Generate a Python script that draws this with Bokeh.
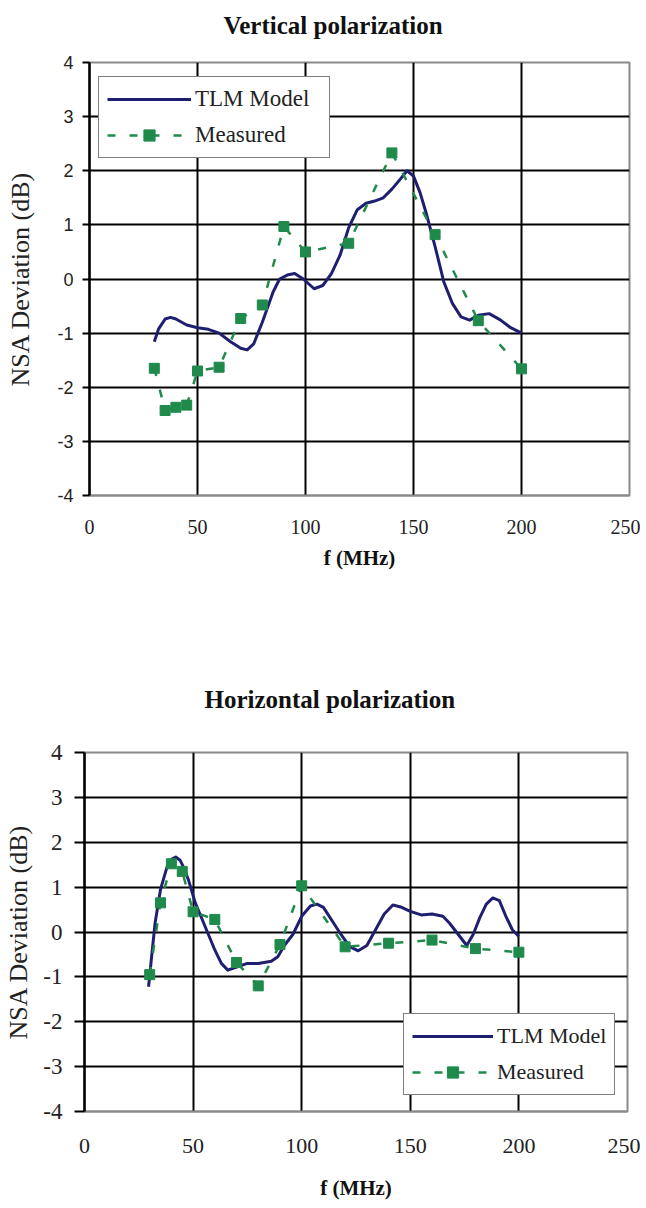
from bokeh.plotting import figure
from bokeh.models import Range1d, FixedTicker, Legend, LegendItem
from bokeh.embed import file_html
from bokeh.resources import INLINE

# ---------------- data ----------------
x_ticks = [0, 50, 100, 150, 200, 250]
y_ticks = [-4, -3, -2, -1, 0, 1, 2, 3, 4]
y_tick_text = ["-4", "-3", "-2", "-1", "0", "1", "2", "3", "4"]

# Vertical polarization
v_tlm_f = [30, 32, 35, 37.5, 40, 45, 50, 55, 60, 65, 70, 73, 76, 80, 85, 88, 92, 95,
           99, 104, 108, 112, 116, 120, 124, 128, 132, 136, 140, 144, 147, 150, 153,
           156, 160, 164, 168, 172, 176, 180, 185, 190, 195, 200]
v_tlm = [-1.16, -0.92, -0.74, -0.71, -0.74, -0.85, -0.9, -0.93, -1.0, -1.15, -1.28, -1.31,
         -1.2, -0.8, -0.24, 0.0, 0.08, 0.1, 0.0, -0.18, -0.12, 0.1, 0.44, 0.95, 1.28, 1.4,
         1.44, 1.5, 1.66, 1.85, 2.0, 1.9, 1.6, 1.2, 0.6, -0.05, -0.45, -0.7, -0.76, -0.67,
         -0.64, -0.75, -0.9, -1.0]
v_meas_f = [30, 35, 40, 45, 50, 60, 70, 80, 90, 100, 120, 140, 160, 180, 200]
v_meas = [-1.65, -2.43, -2.37, -2.33, -1.7, -1.63, -0.73, -0.48, 0.97, 0.5, 0.66, 2.33,
          0.82, -0.77, -1.66]

# Horizontal polarization
h_tlm_f = [29.5, 31, 32.5, 35, 38, 40, 42, 44, 46, 48, 51, 54, 57, 60, 63, 66, 70, 75,
           80, 86, 89, 92, 96, 100, 104, 107, 110, 114, 118, 122, 126, 130, 134, 138,
           142, 146, 150, 155, 160, 165, 168, 172, 176, 179, 182, 185, 188, 191, 194,
           197, 200]
h_tlm = [-1.22, -0.5, 0.2, 0.95, 1.45, 1.62, 1.67, 1.6, 1.4, 1.14, 0.65, 0.3, -0.05, -0.4,
         -0.7, -0.85, -0.78, -0.7, -0.7, -0.65, -0.55, -0.3, -0.05, 0.35, 0.58, 0.62,
         0.55, 0.25, -0.05, -0.32, -0.42, -0.3, 0.05, 0.4, 0.6, 0.55, 0.46, 0.38, 0.4,
         0.35, 0.2, -0.05, -0.3, -0.05, 0.32, 0.62, 0.76, 0.7, 0.35, 0.05, -0.1]
h_meas_f = [30, 35, 40, 45, 50, 60, 70, 80, 90, 100, 120, 140, 160, 180, 200]
h_meas = [-0.95, 0.65, 1.52, 1.35, 0.45, 0.28, -0.68, -1.2, -0.28, 1.03, -0.33, -0.25,
          -0.18, -0.37, -0.45]

NAVY = "#1f1f72"
GREEN = "#1f8a4c"
SERIF = "Liberation Serif, Times New Roman, serif"
SANS = "Liberation Sans, Arial, sans-serif"


def make(title, tf, ty, mf, my, height, bl, br, bt, bb, ytick_font, ytick_size,
         xtick_size, leg_loc, leg_font, label_width, glyph_w, title_standoff,
         title_offset, tick_out, ystand, xstand, xlstand, ylstand):
    p = figure(width=640, height=height, output_backend="svg", toolbar_location=None,
               x_range=Range1d(0, 250), y_range=Range1d(-4, 4),
               min_border_left=bl, min_border_right=br, min_border_top=bt,
               min_border_bottom=bb, title=title)
    p.title.text_font = SERIF
    p.title.text_font_style = "bold"
    p.title.text_font_size = "25px"
    p.title.align = "left"
    p.title.offset = title_offset
    p.title.standoff = title_standoff
    p.title.text_color = "#111111"

    p.background_fill_color = "white"
    p.border_fill_color = "white"
    p.outline_line_color = "#8a8a8a"
    p.outline_line_width = 2

    p.xaxis.ticker = FixedTicker(ticks=x_ticks)
    p.yaxis.ticker = FixedTicker(ticks=y_ticks)
    p.xgrid.ticker = FixedTicker(ticks=x_ticks)
    p.ygrid.ticker = FixedTicker(ticks=y_ticks)
    p.yaxis.major_label_overrides = dict(zip(y_ticks, y_tick_text))
    p.xaxis.minor_tick_line_color = None
    p.yaxis.minor_tick_line_color = None
    p.grid.grid_line_color = "black"
    p.grid.grid_line_width = 2
    p.grid.grid_line_alpha = 1.0

    p.xaxis.axis_line_color = "#8a8a8a"
    p.xaxis.axis_line_width = 2
    p.xaxis.major_tick_line_color = None
    p.xaxis.major_label_text_font = SERIF
    p.xaxis.major_label_text_font_size = xtick_size
    p.xaxis.major_label_text_color = "#222222"
    p.xaxis.major_label_standoff = xstand
    p.xaxis.axis_label = "f (MHz)"
    p.xaxis.axis_label_text_font = SERIF
    p.xaxis.axis_label_text_font_style = "bold"
    p.xaxis.axis_label_text_font_size = "21px"
    p.xaxis.axis_label_text_color = "#111111"
    p.xaxis.axis_label_standoff = xlstand

    p.yaxis.axis_line_color = "black"
    p.yaxis.axis_line_width = 2.5
    p.yaxis.major_tick_line_color = "black"
    p.yaxis.major_tick_line_width = 2
    p.yaxis.major_tick_in = 0
    p.yaxis.major_tick_out = tick_out
    p.yaxis.major_label_text_font = ytick_font
    p.yaxis.major_label_text_font_size = ytick_size
    p.yaxis.major_label_text_color = "#222222"
    p.yaxis.major_label_standoff = ystand
    p.yaxis.axis_label = "NSA Deviation (dB)"
    p.yaxis.axis_label_text_font = SERIF
    p.yaxis.axis_label_text_font_style = "normal"
    p.yaxis.axis_label_text_font_size = "26px"
    p.yaxis.axis_label_text_color = "#222222"
    p.yaxis.axis_label_standoff = ylstand

    r_tlm = p.line(tf, ty, line_color=NAVY, line_width=3, line_join="round")
    r_ml = p.line(mf, my, line_color=GREEN, line_width=2.5, line_dash="8 14")
    r_ms = p.scatter(mf, my, marker="square", size=10, fill_color=GREEN,
                     line_color=GREEN)

    legend = Legend(items=[LegendItem(label="TLM Model", renderers=[r_tlm]),
                           LegendItem(label="Measured", renderers=[r_ml, r_ms])],
                    location=leg_loc)
    legend.label_text_font = SERIF
    legend.label_text_font_size = leg_font
    legend.label_text_color = "#222222"
    legend.glyph_width = glyph_w
    legend.glyph_height = 28
    legend.label_width = label_width
    legend.label_standoff = 4
    legend.spacing = 8
    legend.padding = 8
    legend.margin = 0
    legend.border_line_color = "black"
    legend.border_line_width = 1.5
    legend.background_fill_color = "white"
    legend.background_fill_alpha = 1.0
    p.add_layout(legend)
    return p


p1 = make("Vertical polarization", v_tlm_f, v_tlm, v_meas_f, v_meas,
          height=615, bl=89, br=11, bt=77, bb=105, ytick_font=SANS, ytick_size="18px",
          xtick_size="20px", leg_loc=(9, 337), leg_font="23px", label_width=126,
          glyph_w=84, title_standoff=48, title_offset=134, tick_out=7, ystand=9,
          xstand=18, xlstand=9, ylstand=19)
p1.margin = (-15, 0, 0, 0)
p2 = make("Horizontal polarization", h_tlm_f, h_tlm, h_meas_f, h_meas,
          height=604, bl=84, br=13, bt=152, bb=93, ytick_font=SERIF, ytick_size="23px",
          xtick_size="22px", leg_loc=(319, 16), leg_font="22px", label_width=108,
          glyph_w=81, title_standoff=80, title_offset=120, tick_out=10, ystand=12,
          xstand=21, xlstand=20, ylstand=7)

open("out.html", "w").write(file_html([p1, p2], INLINE))
